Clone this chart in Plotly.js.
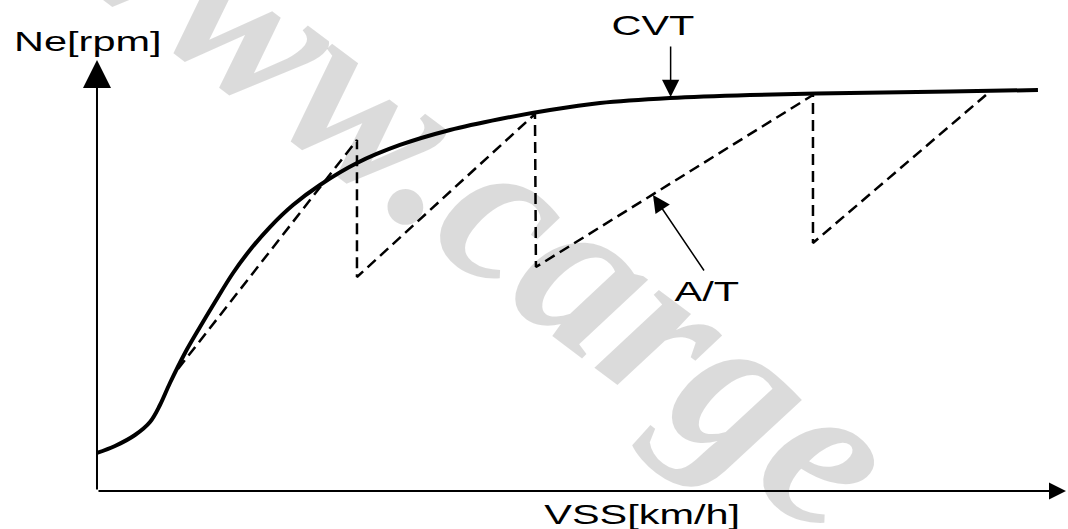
<!DOCTYPE html>
<html>
<head>
<meta charset="utf-8">
<script src="https://cdn.plot.ly/plotly-3.0.1.min.js"></script>
<style>
html, body { margin: 0; padding: 0; background: #ffffff; }
#chart { width: 1068px; height: 529px; }
</style>
</head>
<body>
<div id="chart"></div>
<script>
// Schematic values (relative units, 0-100 on each axis)
const cvtSpeed = [0, 1.86, 3.92, 5.47, 6.50, 7.53, 9.08, 10.63, 12.18, 14.04, 15.79, 17.85, 20.23, 23.01, 26.83, 31.27, 36.43, 41.59, 46.75, 51.91, 59.13, 67.39, 77.71, 88.03, 97.11];
const cvtRpm   = [8.82, 10.44, 12.99, 16.01, 19.95, 25.06, 32.02, 38.05, 43.85, 50.58, 55.92, 61.25, 66.36, 71.0, 76.10, 80.28, 83.76, 86.31, 88.40, 90.02, 91.18, 91.88, 92.34, 92.69, 93.04];

const atSpeed = [8.36, 26.83, 26.83, 45.20, 45.30, 73.89, 73.89, 91.74];
const atRpm   = [28.31, 81.44, 49.65, 87.47, 51.97, 91.88, 57.54, 91.88];

const yAxisLabel = 'Ne[rpm]';
const xAxisLabel = 'VSS[km/h]';
const cvtLabel = 'CVT';
const atLabel = 'A/T';
const watermarkText = 'www.carge';

const labelFont = { family: 'Liberation Sans, Arial, sans-serif', size: 28, color: '#000000' };

const traces = [
  {
    x: atSpeed, y: atRpm, type: 'scatter', mode: 'lines', name: atLabel,
    line: { color: '#000000', width: 2.5, dash: '11px,6px' },
    hoverinfo: 'skip'
  },
  {
    x: cvtSpeed, y: cvtRpm, type: 'scatter', mode: 'lines', name: cvtLabel,
    line: { color: '#000000', width: 4, shape: 'spline', smoothing: 1 },
    hoverinfo: 'skip'
  }
];

function arrow(x, y, ax, ay, head, size, width) {
  return { x: x, y: y, ax: ax, ay: ay, xref: 'x', yref: 'y', axref: 'x', ayref: 'y',
    text: '', showarrow: true, arrowhead: head, arrowsize: size, arrowwidth: width,
    arrowcolor: '#000000', standoff: 0, startstandoff: 0 };
}
function label(x, y, text) {
  return { x: x, y: y, xref: 'x', yref: 'y', text: text, showarrow: false,
    xanchor: 'center', yanchor: 'middle', font: labelFont };
}

const layout = {
  width: 1068, height: 529,
  margin: { l: 0, r: 0, t: 0, b: 0 },
  paper_bgcolor: '#ffffff', plot_bgcolor: '#ffffff',
  showlegend: false,
  xaxis: { range: [-10.01, 100.21], visible: false, fixedrange: true },
  yaxis: { range: [-8.817, 113.921], visible: false, fixedrange: true },
  annotations: [
    { x: 39.0, y: 71.0, xref: 'x', yref: 'y', text: watermarkText, showarrow: false,
      textangle: 37, xanchor: 'center', yanchor: 'middle',
      font: { family: 'Liberation Serif, serif', size: 220, weight: 'bold', style: 'italic', color: 'rgba(0,0,0,0.14)' } },
    arrow(0, 100, 0, 0, 2, 2.8, 2),
    arrow(100, 0, 0, 0, 2, 1.7, 2),
    arrow(59.2, 91.42, 59.2, 103.48, 2, 2.3, 1.5),
    arrow(57.38, 68.68, 62.75, 50.81, 2, 2.3, 1.5),
    label(-0.93, 104.4, yAxisLabel),
    label(57.38, 108.1, cvtLabel),
    label(63.0, 46.4, atLabel),
    label(56.24, -5.34, xAxisLabel)
  ]
};

Plotly.newPlot('chart', traces, layout, { staticPlot: true, displayModeBar: false }).then(function () {
  const stretch = [yAxisLabel, xAxisLabel, cvtLabel, atLabel];
  document.querySelectorAll('#chart .annotation-text').forEach(function (t) {
    if (stretch.indexOf(t.textContent) === -1) return;
    const b = t.getBBox();
    const cx = b.x + b.width / 2;
    t.setAttribute('transform', 'translate(' + cx + ',0) scale(1.48,1) translate(' + (-cx) + ',0)');
  });
});
</script>
</body>
</html>
